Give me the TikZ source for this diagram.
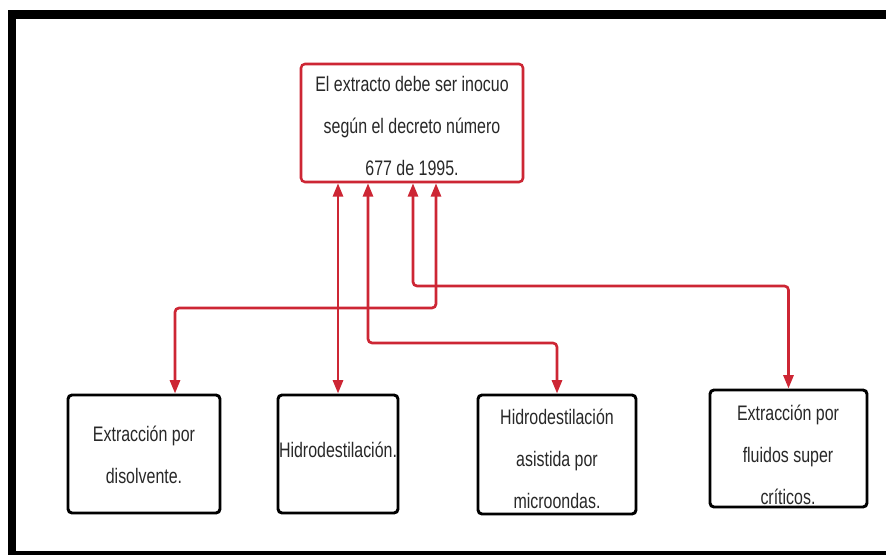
\documentclass[tikz,border=0pt]{standalone}
\usepackage{fontspec}
\setmainfont{Liberation Sans}[FakeStretch=0.76]
\usetikzlibrary{arrows.meta,fit,shadows}
\definecolor{linkred}{RGB}{205,38,52}
\definecolor{inkgray}{RGB}{40,40,40}

\begin{document}
\begin{tikzpicture}[x=0.75pt,y=-0.75pt,
  softshadow/.style={drop shadow={shadow xshift=0.8pt, shadow yshift=-0.8pt, opacity=0.3}},
  card/.style={draw=black, line width=2.2pt, rounded corners=3pt, fill=white, inner sep=0pt, softshadow},
  topcard/.style={draw=linkred, line width=1.9pt, rounded corners=3pt, fill=white, inner sep=0pt, softshadow},
  txt/.style={align=center, text=inkgray, font=\fontsize{15.75}{31.5}\selectfont, inner sep=0pt},
  link/.style={draw=linkred, line width=2pt, rounded corners=3pt,
    {Triangle[length=10pt,width=7.5pt]}-{Triangle[length=10pt,width=7.5pt]}}
]
\useasboundingbox (0,0) rectangle (886,555);

% outer frame (open on the right)
\fill[black] (8,10) rectangle (886,19);
\fill[black] (8,10) rectangle (16,555);
\fill[black] (8,551.5) rectangle (886,555);

% boxes
\node[topcard, fit={(301,64) (523,182)}] (top) {};
\node[card, fit={(68,395) (220,513)}] (b1) {};
\node[card, fit={(278,395) (398,513)}] (b2) {};
\node[card, fit={(478,395) (636,514)}] (b3) {};
\node[card, fit={(710,390) (867,507)}] (b4) {};

% texts
\node[txt] (ttop) at (412,126) {El extracto debe ser inocuo\\según el decreto número\\677 de 1995.};
\node[txt] (t1) at (144,455) {Extracción por\\disolvente.};
\node[txt] (t2) at (338,450) {Hidrodestilación.};
\node[txt] (t3) at (557,459) {Hidrodestilación\\asistida por\\microondas.};
\node[txt] (t4) at (788,455) {Extracción por\\fluidos super\\críticos.};

% routing points of the connectors
\coordinate (k1) at (436,308);
\coordinate (k1b) at (175,308);
\coordinate (k3) at (368,343);
\coordinate (k4) at (413,286);

% connectors
\draw[link] (top.south -| k1) -- (k1) -- (k1b) -- (b1.north -| k1b);
\draw[link] (top.south -| b2.north) -- (b2.north);
\draw[link] (top.south -| k3) -- (k3) -| (b3.north);
\draw[link] (top.south -| k4) -- (k4) -| (b4.north);
\end{tikzpicture}
\end{document}
